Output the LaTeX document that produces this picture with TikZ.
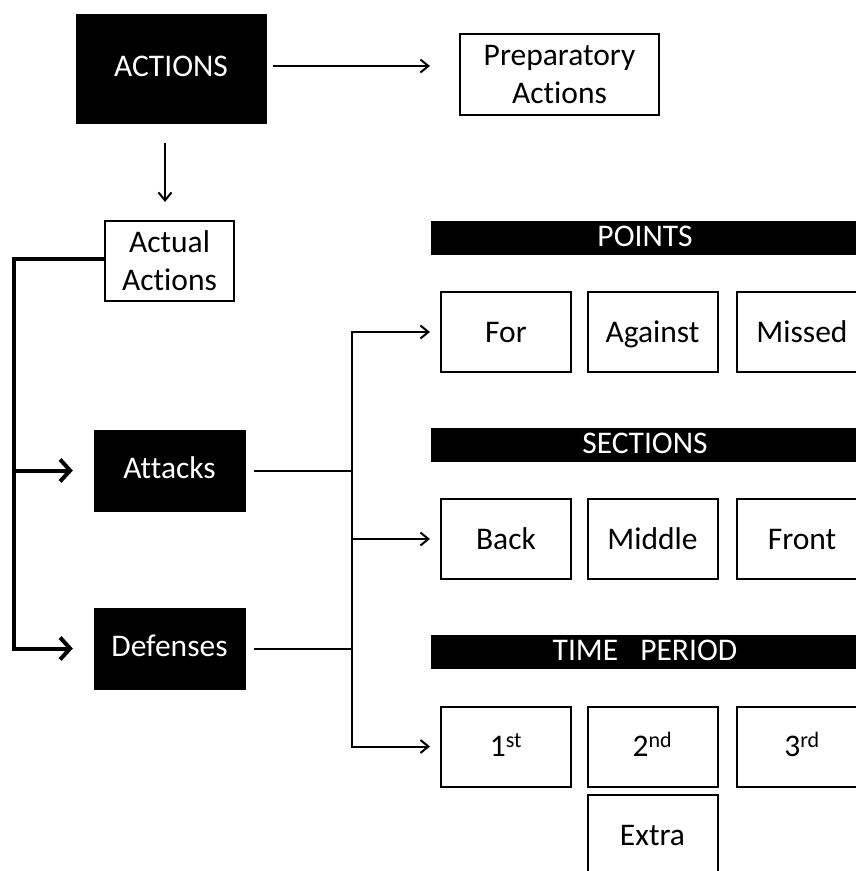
\documentclass[tikz,border=0pt]{standalone}
\usepackage{fontspec}
\setmainfont[Ligatures={NoCommon,NoRequired}]{Carlito}
\usetikzlibrary{arrows.meta}
\begin{document}
\begin{tikzpicture}[x=1pt,y=-1pt,
  every node/.style={font=\fontsize{31.5}{38}\selectfont, align=center, inner sep=0pt},
  capcenter/.style={text height=20.3pt, text depth=#1},
  capcenter/.default=0pt,
  blackbox/.style={fill=black, draw=black, text=white, capcenter=5pt},
  whitebox/.style={fill=white, draw=black, line width=2pt},
  bar/.style={fill=black, text=white, minimum width=428pt, minimum height=34pt, capcenter=3pt},
  cell/.style={whitebox, minimum width=130pt, minimum height=80pt, capcenter},
  thinarr/.style={line width=2pt, -{Straight Barb[length=8pt,width=13pt,line width=2pt]}},
  thickarr/.style={line width=4pt, -{Straight Barb[length=10pt,width=22pt,line width=4pt]}},
  thinline/.style={line width=2pt},
  thickline/.style={line width=4pt}]
\useasboundingbox (0,0) rectangle (856,871);
\clip (0,0) rectangle (856,871);
\fill[white] (0,0) rectangle (856,871);

\node[blackbox, minimum width=190pt, minimum height=109pt] (act) at (171,68.5) {ACTIONS};
\node[whitebox, minimum width=199pt, minimum height=81pt] (prep) at (559.5,74.5) {Preparatory\\Actions};
\node[whitebox, minimum width=129pt, minimum height=80pt] (actual) at (169.5,261) {Actual\\Actions};
\node[blackbox, minimum width=151pt, minimum height=81pt] (att) at (169.5,470.5) {Attacks};
\node[blackbox, minimum width=151pt, minimum height=81pt] (def) at (169.5,648.5) {Defenses};

\node[bar] (points) at (645,238) {POINTS};
\node[bar] (sections) at (645,445) {SECTIONS};
\node[bar] (time) at (645,652) {TIME\hspace{0.7em}PERIOD};

\node[cell] (for) at (506,332) {For};
\node[cell] (against) at (652.5,332) {Against};
\node[cell] (missed) at (802,332) {Missed};
\node[cell] (back) at (506,539) {Back};
\node[cell] (middle) at (652.5,539) {Middle};
\node[cell] (front) at (802,539) {Front};
\node[cell] (first) at (506,746.5) {1\textsuperscript{st}};
\node[cell] (second) at (652.5,746.5) {2\textsuperscript{nd}};
\node[cell] (third) at (802,746.5) {3\textsuperscript{rd}};
\node[cell] (extra) at (652.5,835) {Extra};

% top arrows
\coordinate (ra) at (273,66);
\coordinate (da) at (165,143);
\coordinate (ratip) at ([xshift=-29pt]prep.west);
\coordinate (datip) at ([yshift=18pt]actual.north);
\draw[thinarr] (ra) -- (ra -| ratip);
\draw[thinarr] (da) -- (da |- datip);

% left bracket
\coordinate (lt) at (14,259);
\coordinate (lb) at (14,648.5);
\coordinate (lm) at (14,470.5);
\draw[thickline] ([yshift=2pt]actual.west) -- (lt) -- (lb);
\draw[thickarr] (lm) -- ([xshift=-21pt]att.west);
\draw[thickarr] ([xshift=-2pt]lb) -- ([xshift=-21pt]def.west);

% right bracket
\coordinate (rt) at (352,332);
\coordinate (rb) at (352,746.5);
\coordinate (rm) at (352,539);
\draw[thinline] ([xshift=9pt]att.east) -- (att.east -| rt);
\draw[thinline] ([xshift=9pt]def.east) -- (def.east -| rt);
\draw[thinline] ([yshift=1pt]rt) -- ([yshift=-1pt]rb);
\draw[thinarr] (rt) -- ([xshift=-10pt]for.west);
\draw[thinarr] (rm) -- ([xshift=-10pt]back.west);
\draw[thinarr] (rb) -- ([xshift=-10pt]first.west);
\end{tikzpicture}
\end{document}
